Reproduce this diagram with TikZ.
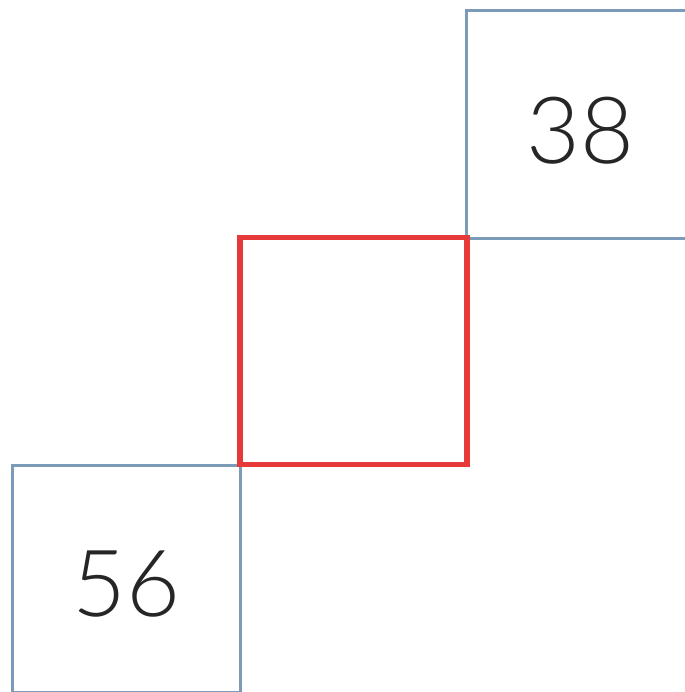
\documentclass[tikz,border=0pt]{standalone}
\usepackage{fontspec}
\newfontfamily\numfont{Lato Light}
\definecolor{cellblue}{RGB}{124,155,184}
\definecolor{cellred}{RGB}{232,57,58}
\tikzset{
  given cell/.style={
    draw=cellblue,
    line width=2.1pt,
    minimum size=5.675cm,
    inner sep=0pt
  },
  missing cell/.style={
    draw=cellred,
    line width=4pt,
    minimum size=5.675cm,
    inner sep=0pt
  },
  cell number/.style={
    font=\numfont\fontsize{66}{66}\selectfont,
    text=black!85
  }
}
\begin{document}
\begin{tikzpicture}[x=0.025cm,y=-0.025cm]
  \clip (0,0) rectangle (685,692);
  \useasboundingbox (0,0) rectangle (685,692);

  % bekannte Felder
  \node[given cell] (top) at (580.5,124.5) {};
  \node[given cell] (bottom) at (126.5,579) {};
  \node[cell number] (topnum) at ([yshift=-0.16cm]top.center) {38};
  \node[cell number] (bottomnum) at ([yshift=-0.12cm]bottom.center) {56};

  % gesuchtes Feld
  \node[missing cell] (gap) at (353.5,351) {};

\end{tikzpicture}
\end{document}
